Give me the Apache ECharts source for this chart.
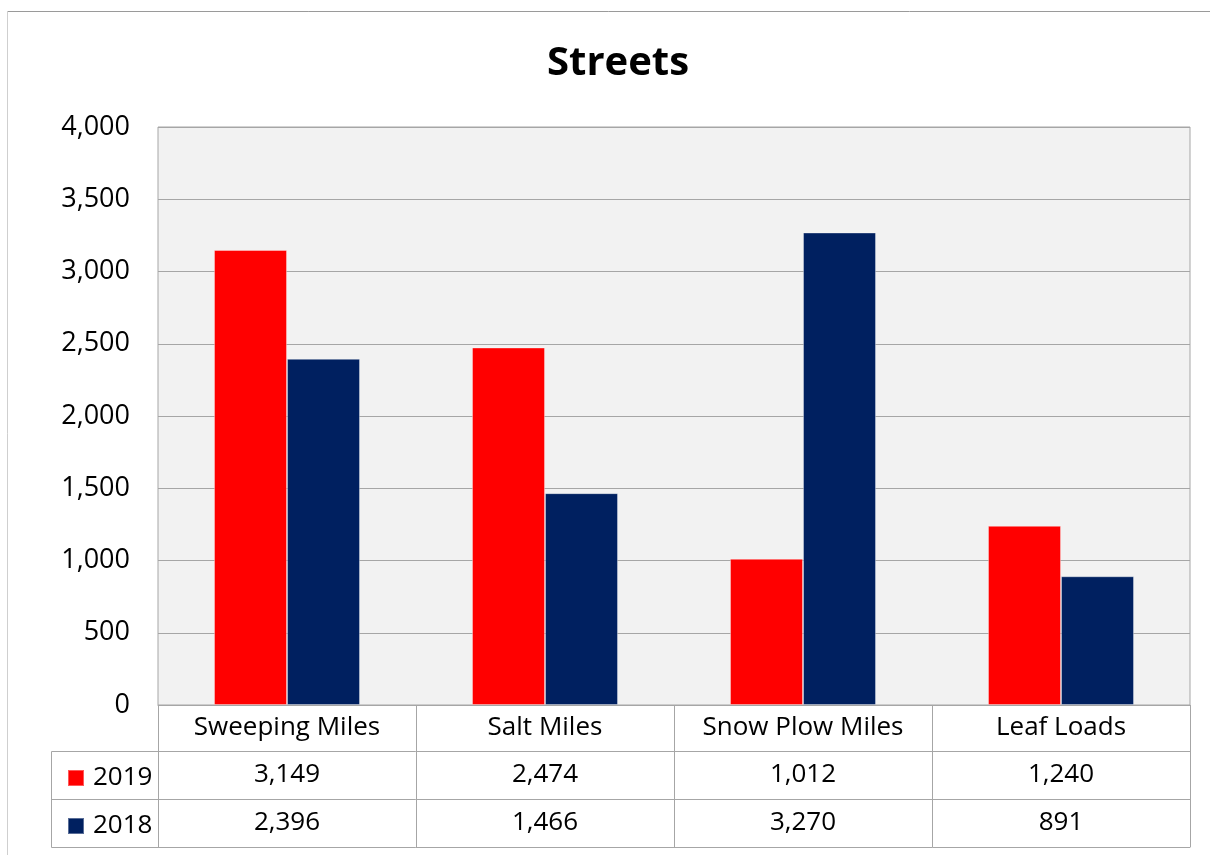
<!DOCTYPE html>
<html>
<head>
<meta charset="utf-8">
<script src="https://cdn.jsdelivr.net/npm/echarts@6/dist/echarts.min.js"></script>
<style>
html,body{margin:0;padding:0;background:#fff;}
#chart{width:1210px;height:855px;}
</style>
</head>
<body>
<div id="chart"></div>
<script>
const categories = ['Sweeping Miles', 'Salt Miles', 'Snow Plow Miles', 'Leaf Loads'];
const seriesNames = ['2019', '2018'];
const values2019 = [3149, 2474, 1012, 1240];
const values2018 = [2396, 1466, 3270, 891];
const yTicks = [0, 500, 1000, 1500, 2000, 2500, 3000, 3500, 4000];

const FONT = 'Open Sans';
const LINE = '#a6a6a6';
const fmt = v => Number(v).toLocaleString('en-US');

const chart = echarts.init(document.getElementById('chart'));

const G = {left: 158, right: 20, top: 127, bottom: 150};
const H = 855, W = 1210;
const yAxisLine = H - G.bottom; // 705
const rowH = [46, 48, 48];

function rowAxis(offset, formatter, showLine) {
  return {
    type: 'category', data: categories, position: 'bottom', offset: offset,
    axisLine: {show: showLine, lineStyle: {color: LINE, width: 1}},
    axisTick: {show: false},
    axisLabel: {show: !!formatter, interval: 0, formatter: formatter || undefined, margin: 11,
      color: '#000', fontFamily: FONT, fontSize: 26},
    splitLine: {show: false}
  };
}

chart.setOption({
  animation: false,
  backgroundColor: '#fff',
  title: {
    text: 'Streets', left: 542, top: 39,
    textStyle: {fontFamily: FONT, fontWeight: 'bold', fontSize: 40, color: '#000'}
  },
  legend: {
    data: seriesNames, orient: 'vertical', left: 62, top: 760,
    itemWidth: 16, itemHeight: 16, itemGap: 22, icon: 'rect',
    selectedMode: false,
    textStyle: {fontFamily: FONT, fontSize: 26, color: '#000', lineHeight: 26, padding: [0, 0, 0, 4]}
  },
  grid: {
    left: G.left, right: G.right, top: G.top, bottom: G.bottom,
    show: true, backgroundColor: '#f2f2f2', borderColor: LINE, borderWidth: 1
  },
  xAxis: [
    {
      type: 'category', data: categories, position: 'bottom',
      axisLine: {show: true, lineStyle: {color: LINE, width: 1}},
      axisTick: {show: true, interval: 0, length: rowH[0] + rowH[1] + rowH[2], lineStyle: {color: LINE, width: 1}},
      axisLabel: {interval: 0, margin: 10, color: '#000', fontFamily: FONT, fontSize: 26}
    },
    rowAxis(rowH[0], (v, i) => fmt(values2019[i]), true),
    rowAxis(rowH[0] + rowH[1], (v, i) => fmt(values2018[i]), true),
    rowAxis(rowH[0] + rowH[1] + rowH[2], null, true)
  ],
  yAxis: {
    type: 'value', min: yTicks[0], max: yTicks[yTicks.length - 1], interval: yTicks[1] - yTicks[0],
    axisLine: {show: false}, axisTick: {show: false},
    splitLine: {lineStyle: {color: LINE, width: 1}},
    axisLabel: {margin: 28, color: '#000', fontFamily: FONT, fontSize: 27, formatter: v => fmt(v)}
  },
  series: [
    {name: seriesNames[0], type: 'bar', data: values2019, barWidth: 73, barGap: '0%',
      itemStyle: {color: '#ff0000', borderColor: 'rgba(255,255,255,0.35)', borderWidth: 1}},
    {name: seriesNames[1], type: 'bar', data: values2018, barWidth: 73, barGap: '0%',
      itemStyle: {color: '#002060', borderColor: 'rgba(255,255,255,0.35)', borderWidth: 1}}
  ],
  graphic: [
    {type: 'line', silent: true, shape: {x1: 7.5, y1: 11.5, x2: W, y2: 11.5}, style: {stroke: '#9a9a9a', lineWidth: 1}},
    {type: 'line', silent: true, shape: {x1: 7.5, y1: 11.5, x2: 7.5, y2: H}, style: {stroke: '#cfcfcf', lineWidth: 1}},
    {type: 'polyline', silent: true,
      shape: {points: [[G.left, yAxisLine + rowH[0] + 0.5], [51.5, yAxisLine + rowH[0] + 0.5],
        [51.5, yAxisLine + rowH[0] + rowH[1] + rowH[2] + 0.5], [G.left, yAxisLine + rowH[0] + rowH[1] + rowH[2] + 0.5]]},
      style: {stroke: LINE, lineWidth: 1, fill: null}},
    {type: 'line', silent: true,
      shape: {x1: 51.5, y1: yAxisLine + rowH[0] + rowH[1] + 0.5, x2: G.left, y2: yAxisLine + rowH[0] + rowH[1] + 0.5},
      style: {stroke: LINE, lineWidth: 1}}
  ]
});
</script>
</body>
</html>
